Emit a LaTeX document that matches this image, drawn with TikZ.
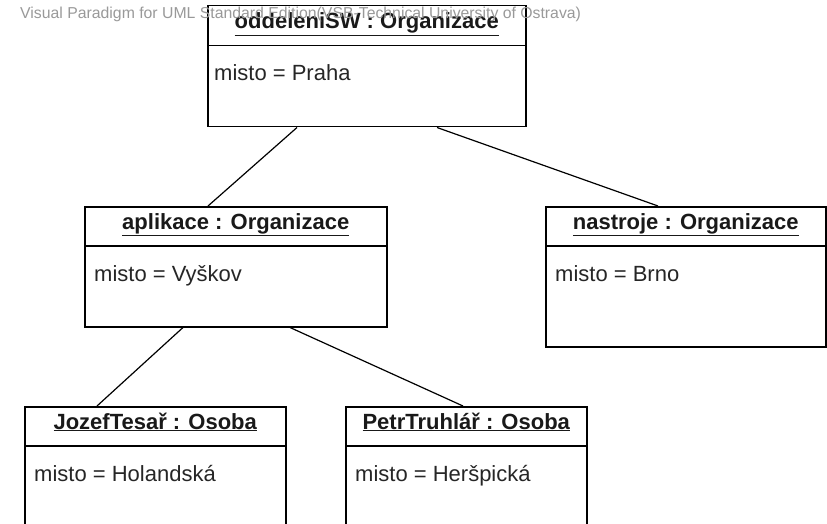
\documentclass[tikz,border=0pt]{standalone}
\usepackage{fontspec}
\setmainfont{Liberation Sans}
\usetikzlibrary{calc}
\tikzset{
  objbox/.style={draw=black, line width=1.5pt, fill=white, inner sep=0pt, anchor=north west},
  hdr/.style={font=\fontsize{22}{24}\selectfont\bfseries, text=black!90, inner sep=0pt, anchor=base},
  attr/.style={font=\fontsize{22}{24}\selectfont, text=black!85, inner sep=0pt, anchor=base west},
  link/.style={draw=black, line width=1.2pt},
  divider/.style={draw=black, line width=1.5pt},
  wm/.style={font=\fontsize{15.8}{18}\selectfont, text=black!40, inner sep=0pt, anchor=west}
}
\begin{document}
\begin{tikzpicture}[x=1pt, y=-1pt]
\useasboundingbox (0,0) rectangle (827,524);
\clip (0,0) rectangle (827,524);
% boxes
\node[objbox, minimum width=318pt, minimum height=121pt] (top) at (207,5) {};
\node[objbox, minimum width=302pt, minimum height=120pt] (apl) at (84,206) {};
\node[objbox, minimum width=280pt, minimum height=140pt] (nas) at (545,206) {};
\node[objbox, minimum width=261pt, minimum height=125pt] (joz) at (24,406) {};
\node[objbox, minimum width=241pt, minimum height=125pt] (pet) at (345,406) {};
% dividers
\draw[divider] ($(top.north west)+(0,40.5)$) -- ($(top.north east)+(0,40.5)$);
\draw[divider] ($(apl.north west)+(0,40)$) -- ($(apl.north east)+(0,40)$);
\draw[divider] ($(nas.north west)+(0,40)$) -- ($(nas.north east)+(0,40)$);
\draw[divider] ($(joz.north west)+(0,40)$) -- ($(joz.north east)+(0,40)$);
\draw[divider] ($(pet.north west)+(0,40)$) -- ($(pet.north east)+(0,40)$);
% header texts
\node[hdr] (topH) at ($(top.north)+(0,24)$) {\underline{oddeleniSW : Organizace}};
\node[hdr] (aplH) at ($(apl.north)+(0,23)$) {\underline{aplikace : Organizace}};
\node[hdr] (nasH) at ($(nas.north)+(0,23)$) {\underline{nastroje : Organizace}};
\node[hdr] (jozH) at ($(joz.north)+(0,23)$) {\underline{JozefTesař : Osoba}};
\node[hdr] (petH) at ($(pet.north)+(0,23)$) {\underline{PetrTruhlář : Osoba}};
% attribute texts
\node[attr] (topA) at ($(top.north west)+(7,76)$) {misto = Praha};
\node[attr] (aplA) at ($(apl.north west)+(10,75)$) {misto = Vyškov};
\node[attr] (nasA) at ($(nas.north west)+(10,75)$) {misto = Brno};
\node[attr] (jozA) at ($(joz.north west)+(10,75)$) {misto = Holandská};
\node[attr] (petA) at ($(pet.north west)+(10,75)$) {misto = Heršpická};
% links
\draw[link] ($(top.south west)+(90,0)$) -- ($(apl.north west)+(124,0)$);
\draw[link] ($(top.south west)+(230,0)$) -- ($(nas.north west)+(113,0)$);
\draw[link] ($(apl.south west)+(99,0)$) -- ($(joz.north west)+(73,0)$);
\draw[link] ($(apl.south west)+(206,0)$) -- ($(pet.north west)+(118,0)$);
% watermark
\node[wm] (wmark) at (20,14) {Visual Paradigm for UML Standard Edition(VSB-Technical University of Ostrava)};
\end{tikzpicture}
\end{document}
